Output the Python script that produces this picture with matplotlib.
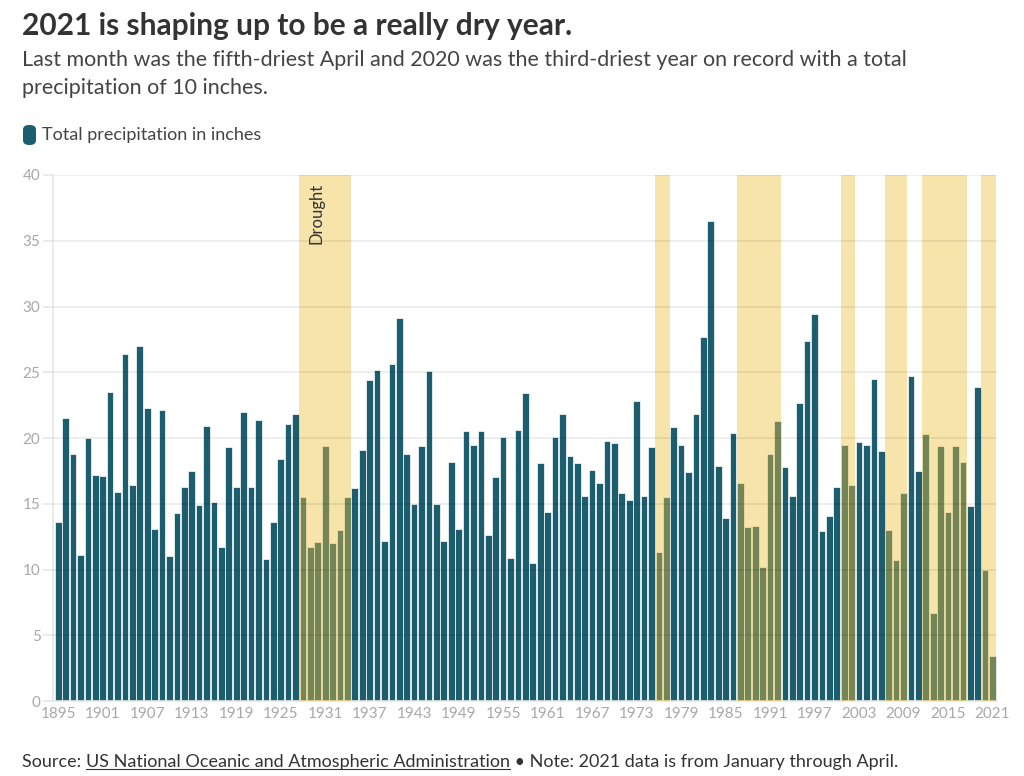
import matplotlib

matplotlib.use("Agg")
import matplotlib.pyplot as plt
from matplotlib.patches import FancyBboxPatch
from matplotlib.lines import Line2D

plt.rcParams["font.family"] = ["Lato", "DejaVu Sans"]

# 연도별 총 강수량 (인치), 1895 ~ 2021
years = list(range(1895, 2022))
precip = [
    13.6, 21.5, 18.8, 11.1, 20.0, 17.2, 17.1, 23.5, 15.9, 26.4,  # 1895-1904
    16.4, 27.0, 22.3, 13.1, 22.1, 11.0, 14.3, 16.3, 17.5, 14.9,  # 1905-1914
    20.9, 15.1, 11.7, 19.3, 16.3, 22.0, 16.3, 21.4, 10.8, 13.6,  # 1915-1924
    18.4, 21.1, 21.8, 15.5, 11.7, 12.1, 19.4, 12.0, 13.0, 15.5,  # 1925-1934
    16.2, 19.1, 24.4, 25.2, 12.2, 25.6, 29.1, 18.8, 15.0, 19.4,  # 1935-1944
    25.1, 15.0, 12.2, 18.2, 13.1, 20.5, 19.5, 20.5, 12.6, 17.0,  # 1945-1954
    20.1, 10.9, 20.6, 23.4, 10.5, 18.1, 14.4, 20.1, 21.8, 18.6,  # 1955-1964
    18.1, 15.6, 17.6, 16.6, 19.8, 19.6, 15.8, 15.3, 22.8, 15.6,  # 1965-1974
    19.3, 11.3, 15.5, 20.8, 19.5, 17.4, 21.8, 27.7, 36.5, 17.9,  # 1975-1984
    13.9, 20.4, 16.6, 13.2, 13.3, 10.2, 18.8, 21.3, 17.8, 15.6,  # 1985-1994
    22.7, 27.4, 29.4, 12.9, 14.1, 16.3, 19.5, 16.4, 19.7, 19.5,  # 1995-2004
    24.5, 19.0, 13.0, 10.7, 15.8, 24.7, 17.5, 20.3, 6.7, 19.4,   # 2005-2014
    14.4, 19.4, 18.2, 14.8, 23.9, 10.0, 3.4,                     # 2015-2021
]

# 가뭄 기간 (시작 연도, 끝 연도)
drought_periods = [
    (1928, 1934), (1976, 1977), (1987, 1992), (2001, 2002),
    (2007, 2009), (2012, 2017), (2020, 2021),
]

x_ticks = list(range(1895, 2022, 6))
y_ticks = [0, 5, 10, 15, 20, 25, 30, 35, 40]

title = "2021 is shaping up to be a really dry year."
subtitle_lines = [
    "Last month was the fifth-driest April and 2020 was the third-driest year on record with a total",
    "precipitation of 10 inches.",
]
legend_label = "Total precipitation in inches"
source_parts = ["Source: ", "US National Oceanic and Atmospheric Administration",
                " \u2022 Note: 2021 data is from January through April."]

BAR_COLOR = "#1d5e6e"
SHADE_COLOR = "#eebf35"
GRID_COLOR = "#e6e6e6"
TICK_COLOR = "#a8a8a8"

fig = plt.figure(figsize=(10.24, 7.76), dpi=100)
ax = fig.add_axes([0.0518, 0.0966, 0.9218, 0.6779])

ax.bar(years, precip, width=0.9, color=BAR_COLOR, edgecolor="white", linewidth=0.5, zorder=2)

for start, end in drought_periods:
    ax.axvspan(start - 0.5, end + 0.5, color=SHADE_COLOR, alpha=0.42, linewidth=0, zorder=3)

ax.text(1929.8, 39.4, "Drought", rotation=90, ha="center", va="top",
        fontsize=12, color="#333333", zorder=4)

# 그리드 (막대 위에 흐리게)
for v in y_ticks[1:]:
    ax.axhline(v, color="black", alpha=0.08, linewidth=1.2, zorder=3.5)

ax.set_xlim(1894.3, 2021.6)
ax.set_ylim(0, 40)
ax.set_yticks(y_ticks)
ax.set_xticks(x_ticks)
ax.tick_params(axis="y", length=7, width=1.2, color=GRID_COLOR, labelcolor=TICK_COLOR,
               labelsize=11, pad=2)
ax.tick_params(axis="x", length=0, labelcolor=TICK_COLOR, labelsize=11, pad=4)

for side in ["top", "right"]:
    ax.spines[side].set_visible(False)
for side in ["left", "bottom"]:
    ax.spines[side].set_color(GRID_COLOR)
    ax.spines[side].set_linewidth(1.2)

# 제목 / 부제목
fig.text(0.0215, 1 - 26 / 776, title, fontsize=21.5, fontweight="bold", color="#333333", va="center")
for i, line in enumerate(subtitle_lines):
    fig.text(0.0215, 1 - (60 + 28 * i) / 776, line, fontsize=15.5, color="#444444", va="center")

# 범례
fig.patches.append(FancyBboxPatch((23 / 1024, 1 - 145 / 776), 13 / 1024, 20 / 776,
                                  boxstyle="round,pad=0,rounding_size=0.006",
                                  transform=fig.transFigure, facecolor=BAR_COLOR,
                                  edgecolor="none"))
fig.text(42 / 1024, 1 - 135 / 776, legend_label, fontsize=13, color="#444444", va="center")

# 출처 (가운데 부분에 밑줄)
fig.canvas.draw()
renderer = fig.canvas.get_renderer()
x_pos = 22 / 1024
y_pos = 1 - 762 / 776
for i, part in enumerate(source_parts):
    t = fig.text(x_pos, y_pos, part, fontsize=13, color="#333333", va="center")
    bb = t.get_window_extent(renderer).transformed(fig.transFigure.inverted())
    if i == 1:
        fig.lines.append(Line2D([bb.x0, bb.x1], [bb.y0 + 0.001, bb.y0 + 0.001],
                                transform=fig.transFigure, color="#333333", linewidth=0.8))
    x_pos = bb.x1

fig.savefig("out.png", dpi=100)
